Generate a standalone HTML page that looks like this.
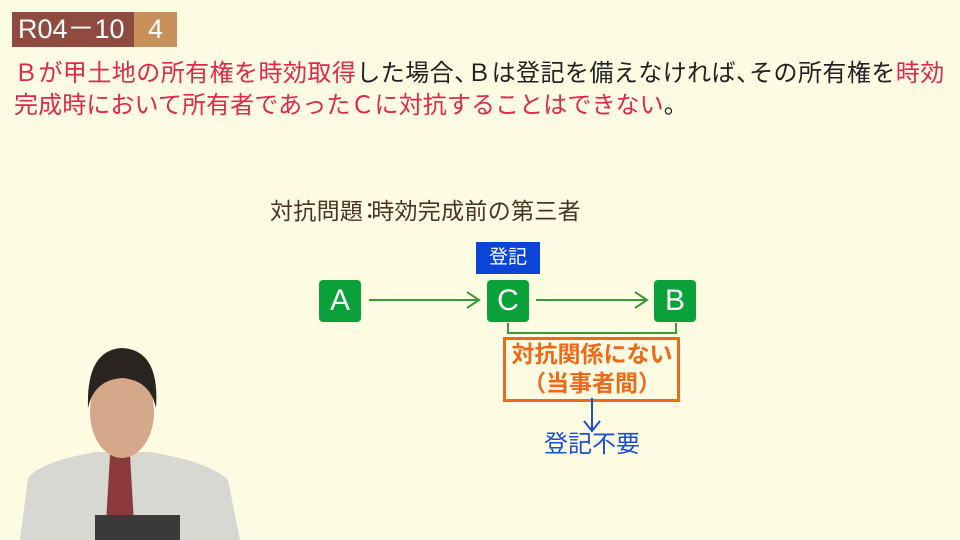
<!DOCTYPE html>
<html><head><meta charset="utf-8"><style>
*{margin:0;padding:0;box-sizing:border-box}
body{width:960px;height:540px;overflow:hidden;background:#fefbe3;position:relative;font-family:"Liberation Sans","Noto Sans CJK JP",sans-serif}
.a{position:absolute;white-space:nowrap}
.r{color:#e0284a}
.k{color:#222}
.c{letter-spacing:-11px}
.box{position:absolute;background:#0aa03a;border-radius:4px;color:#fff;font-size:30px;text-align:center;line-height:42px;width:42px;height:42px}
</style></head><body>
<div class="a" style="left:12px;top:12px;width:122px;height:35px;background:#8f4b40;color:#fff;font-size:27px;line-height:35px;padding-left:6px">R04－10</div>
<div class="a" style="left:134px;top:12px;width:43px;height:35px;background:#c8915c;color:#fff;font-size:27px;line-height:35px;text-align:center">4</div>
<div class="a" style="left:14px;top:58px;font-size:24px;line-height:32px;letter-spacing:0.45px"><span class="r">Ｂが甲土地の所有権を時効取得</span><span class="k">した場合<span class="c">、</span>Ｂは登記を備えなければ<span class="c">、</span>その所有権を</span><span class="r">時効</span></div>
<div class="a" style="left:14px;top:90px;font-size:24px;line-height:32px;letter-spacing:0.1px"><span class="r">完成時において所有者であったＣに対抗することはできない</span><span class="k">。</span></div>
<div class="a" style="left:270px;top:197px;font-size:23px;line-height:28px;color:#4a3520;letter-spacing:0.3px">対抗問題<span style="display:inline-block;width:13px;margin-left:-5px">：</span>時効完成前の第三者</div>
<div class="a" style="left:476px;top:242px;width:64px;height:32px;background:#0a45d8;color:#fff;font-size:19px;line-height:32px;text-align:center">登記</div>
<div class="box" style="left:319px;top:280px">A</div>
<div class="box" style="left:487px;top:280px">C</div>
<div class="box" style="left:654px;top:280px">B</div>
<svg class="a" style="left:0;top:0" width="960" height="540">
<g stroke="#3a9a3a" stroke-width="2" fill="none">
<line x1="369" y1="300" x2="478" y2="300"/><polyline points="467,292 479,300 467,308"/>
<line x1="536" y1="300" x2="646" y2="300"/><polyline points="635,292 647,300 635,308"/>
<polyline points="508,323 508,333 676,333 676,323"/>
</g>
<rect x="504.5" y="338.5" width="174" height="62" fill="none" stroke="#ee6a1a" stroke-width="3"/>
<g stroke="#1a4fd8" stroke-width="2" fill="none"><line x1="592" y1="398" x2="592" y2="431"/><polyline points="584,421 592,431 600,421"/></g>
<path d="M20,540 L28,478 Q40,462 95,452 L150,452 Q210,462 228,480 L240,540 Z" fill="#d8d8d2"/>
<path d="M110,455 L130,455 L135,540 L105,540 Z" fill="#8a3a3a"/>
<ellipse cx="122" cy="412" rx="32" ry="46" fill="#d6a88a"/>
<path d="M88,408 Q86,350 122,348 Q160,350 156,408 Q150,380 122,378 Q94,380 88,408Z" fill="#2a2420"/>
<rect x="95" y="515" width="85" height="25" fill="#3a3a3a"/>
</svg>
<div class="a" style="left:505px;top:340px;width:174px;text-align:center;font-size:23px;line-height:29px;color:#ee6a1a;font-weight:bold">対抗関係にない<br>（当事者間）</div>
<div class="a" style="left:544px;top:430px;font-size:24px;line-height:30px;color:#1a4fd8">登記不要</div>
</body></html>
